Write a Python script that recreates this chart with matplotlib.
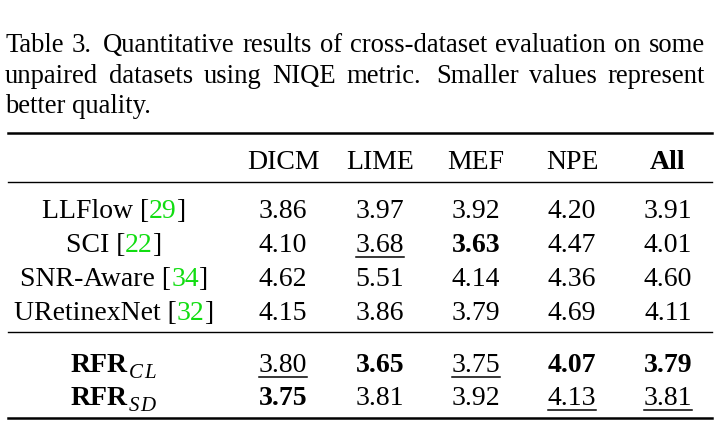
import matplotlib.pyplot as plt
from matplotlib.lines import Line2D

plt.rcParams['font.family'] = 'Liberation Serif'
plt.rcParams['mathtext.fontset'] = 'custom'
plt.rcParams['mathtext.rm'] = 'Liberation Serif'
plt.rcParams['mathtext.it'] = 'Liberation Serif:italic'
plt.rcParams['mathtext.bf'] = 'Liberation Serif:bold'

caption = [
    'Table 3.  Quantitative results of cross-dataset evaluation on some',
    'unpaired datasets using NIQE metric.  Smaller values represent',
    'better quality.',
]
datasets = ['DICM', 'LIME', 'MEF', 'NPE', 'All']
methods = ['LLFlow', 'SCI', 'SNR-Aware', 'URetinexNet']
cites = ['29', '22', '34', '32']
niqe = [
    [3.86, 3.97, 3.92, 4.20, 3.91],
    [4.10, 3.68, 3.63, 4.47, 4.01],
    [4.62, 5.51, 4.14, 4.36, 4.60],
    [4.15, 3.86, 3.79, 4.69, 4.11],
]
ours = ['RFR', 'RFR']
ours_sub = [r'$C\,L$', r'$S\,D$']
ours_niqe = [
    [3.80, 3.65, 3.75, 4.07, 3.79],
    [3.75, 3.81, 3.92, 4.13, 3.81],
]

W, H = 726, 431
FS = 20
CAP_FS = 19.2
SUB_FS = 15
GREEN = '#11dd11'
fig = plt.figure(figsize=(W / 100, H / 100), dpi=100)
r = fig.canvas.get_renderer()


def px(x, y):
    return x / W, 1 - y / H


def width(t):
    return t.get_window_extent(r).width


def put(x, y, s, ha='left', size=FS, **kw):
    return fig.text(*px(x, y), s, ha=ha, va='baseline', fontsize=size, **kw)


def measure(s, **kw):
    t = put(0, 0, s, **kw)
    w = width(t)
    t.remove()
    return w


def cited(xc, y, name, num):
    full = name + ' [' + num + ']'
    wf = measure(full)
    left = xc - wf / 2
    put(left, y, name + ' [')
    put(left + measure(name + ' [' + num) - measure(num), y, num, color=GREEN)
    put(left + wf - measure(']') - 0.5, y, ']')


def hrule(y, lw):
    fig.add_artist(Line2D([8 / W, 712 / W], [1 - y / H] * 2, color='black', lw=lw))


# caption, justified like the paper
left, right = 5, 705
for i, (line, yb) in enumerate(zip(caption, [52, 83, 113])):
    words = line.replace('.  ', '.\x00').split(' ')
    words = [w for part in words for w in part.split('\x00')]
    ts = [put(0, yb, w, size=CAP_FS) for w in words]
    ws = [width(t) for t in ts]
    if i < len(caption) - 1:
        weights = [1.4 if w.endswith('.') else 1.0 for w in words[:-1]]
        unit = (right - left - sum(ws)) / sum(weights)
    else:
        weights = [1.0] * (len(words) - 1)
        unit = 6.5
    x = left
    for j, (t, w) in enumerate(zip(ts, ws)):
        t.set_position(px(x, yb))
        if j < len(weights):
            x += w + unit * weights[j]

# table
col_x = [283, 380, 476, 572, 668]
name_x = 114
hrule(134, 1.8)
hrule(183, 1.0)
hrule(333, 1.0)
hrule(419, 1.8)

for x, d in zip(col_x, datasets):
    put(x, 169, d, ha='center', fontweight='bold' if d == 'All' else 'normal')

rows = niqe + ours_niqe
order = [sorted(col) for col in zip(*rows)]
row_y = [218, 252, 286, 320, 372, 405]

for i, (m, c) in enumerate(zip(methods, cites)):
    cited(name_x, row_y[i], m, c)
for i, (lab, sub) in enumerate(zip(ours, ours_sub)):
    y = row_y[4 + i]
    wl = measure(lab, fontweight='bold')
    ws = measure(sub, size=SUB_FS)
    x0 = name_x - (wl + ws) / 2
    put(x0, y, lab, fontweight='bold')
    put(x0 + wl, y + 6, sub, size=SUB_FS)

for i, vals in enumerate(rows):
    y = row_y[i]
    for j, v in enumerate(vals):
        best = v == order[j][0]
        second = v == order[j][1] and not best
        t = put(col_x[j], y, f'{v:.2f}', ha='center',
                fontweight='bold' if best else 'normal')
        if second:
            w = width(t)
            fig.add_artist(Line2D([(col_x[j] - w / 2) / W, (col_x[j] + w / 2) / W],
                                  [1 - (y + 6) / H] * 2, color='black', lw=1.1))

fig.savefig('out.png', dpi=100)
